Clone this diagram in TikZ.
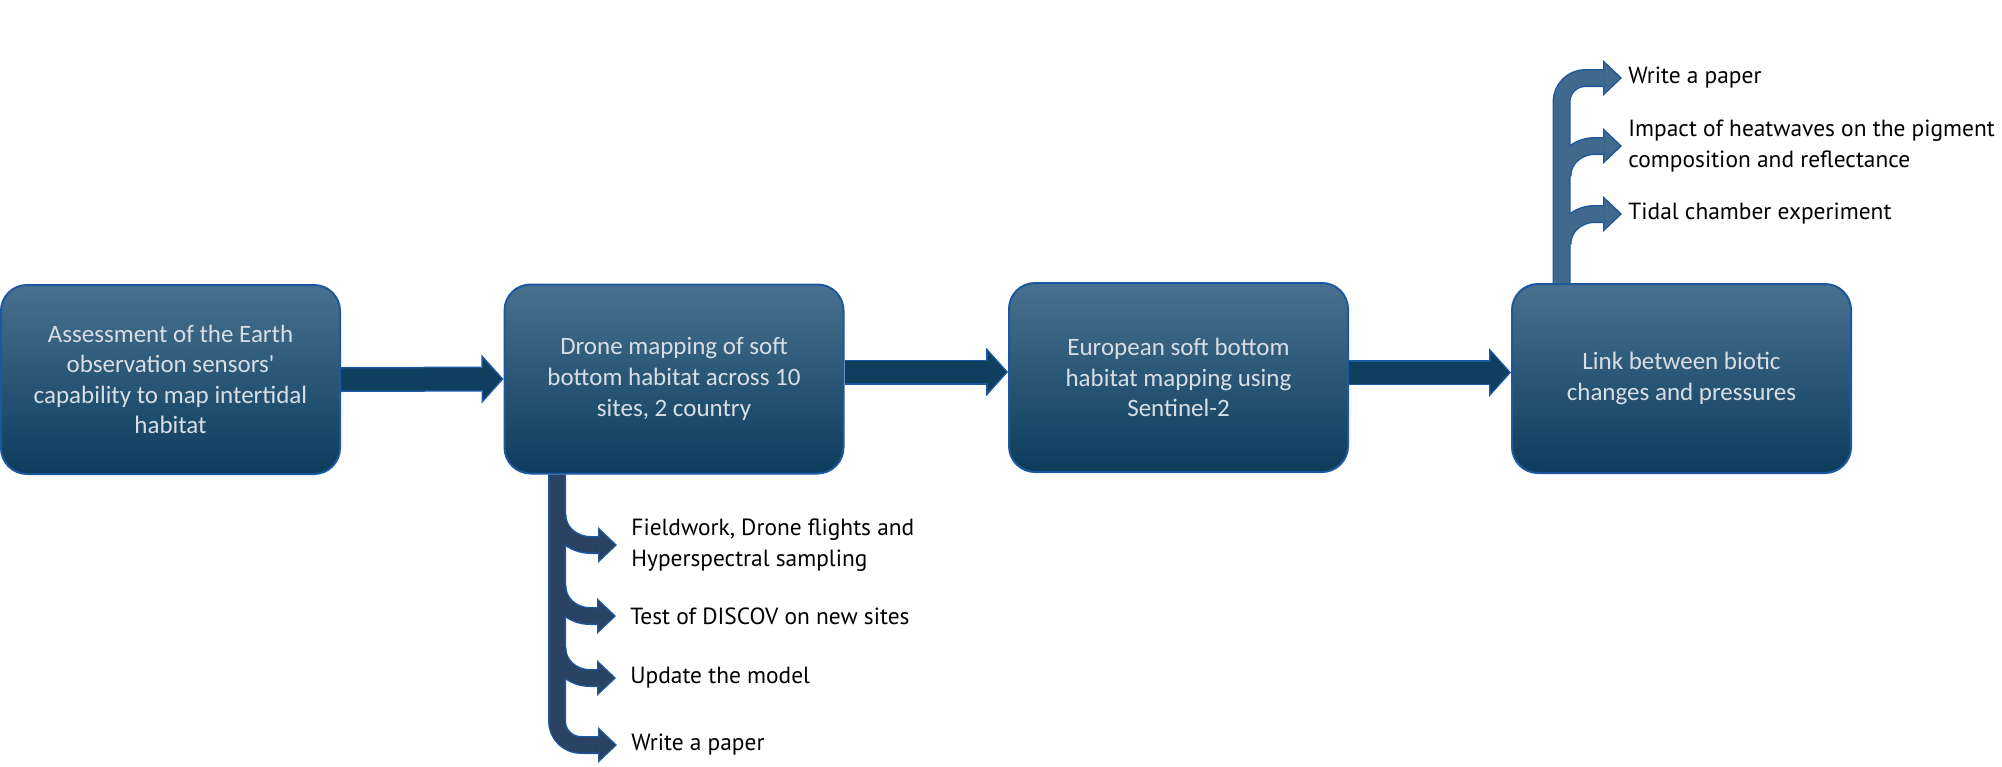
\documentclass[tikz,border=0pt]{standalone}
\usepackage{fontspec}
\usepackage{tikz}
\usetikzlibrary{arrows.meta,backgrounds}
\newfontfamily\stagefont{Carlito}
\newfontfamily\taskfont{PT Sans}
\definecolor{stagetop}{RGB}{72,113,143}
\definecolor{stagebot}{RGB}{12,60,92}
\definecolor{stageedge}{RGB}{28,88,160}
\definecolor{stagetext}{RGB}{216,222,230}
\definecolor{rimblue}{RGB}{28,88,160}
\definecolor{linkfill}{RGB}{15,63,95}
\definecolor{downfill}{RGB}{42,67,98}
\definecolor{upfill}{RGB}{64,105,139}

\begin{document}
\begin{tikzpicture}
  [ x=0.5pt, y=-0.5pt
  , stage/.style={rectangle, rounded corners=13pt, draw=stageedge, line width=1pt, top color=stagetop, bottom color=stagebot, minimum width=169.5pt, minimum height=94.5pt, align=center, text=stagetext, font=\stagefont\fontsize{12.5pt}{15.3pt}\selectfont}
  , task/.style={anchor=west, inner sep=0pt, align=left, font=\taskfont\fontsize{11.7pt}{15.3pt}\selectfont}
  , link rim/.style={line width=12.5pt, draw=rimblue, -{Triangle[width=24.5pt, length=11pt, line width=0pt]}}
  , link core/.style={line width=11pt, draw=linkfill, shorten >=1pt, -{Triangle[width=20.6pt, length=9.25pt, line width=0pt]}}
  , down rim/.style={line width=9pt, draw=rimblue, line join=round, shorten >=7pt, -{Triangle[width=18pt, length=9.5pt, line width=0pt]}}
  , down core/.style={line width=7.6pt, draw=downfill, line join=round, shorten >=8pt, -{Triangle[width=14.8pt, length=7.8pt, line width=0pt]}}
  , up rim/.style={line width=9pt, draw=rimblue, line join=round, shorten >=3pt, -{Triangle[width=18pt, length=9.5pt, line width=0pt]}}
  , up core/.style={line width=7.6pt, draw=upfill, line join=round, shorten >=4pt, -{Triangle[width=14.8pt, length=7.8pt, line width=0pt]}}]
  \useasboundingbox (0,0) rectangle (2002,766);
  \node (b1) at (170.5, 379.5) [stage] {Assessment of the Earth\\observation sensors\textquotesingle\\capability to map intertidal\\habitat};
  \node (b2) at (674, 379) [stage] {Drone mapping of soft\\bottom habitat across 10\\sites, 2 country};
  \node (b3) at (1178.5, 377.5) [stage] {European soft bottom\\habitat mapping using\\Sentinel-2};
  \node (b4) at (1681.5, 378.5) [stage] {Link between biotic\\changes and pressures};
  \node (d1) at (631, 545) [task] {Fieldwork, Drone flights and\\Hyperspectral sampling};
  \node (d2) at (630, 616) [task] {Test of DISCOV on new sites};
  \node (d3) at (630, 678) [task] {Update the model};
  \node (d4) at (631, 745) [task] {Write a paper};
  \node (u1) at (1628, 78) [task] {Write a paper};
  \node (u2) at (1628, 146) [task] {Impact of heatwaves on the pigment\\composition and reflectance};
  \node (u3) at (1628, 214) [task] {Tidal chamber experiment};
  \coordinate (dr1) at (557.5, 515);
  \coordinate (dr2) at (557.5, 586);
  \coordinate (dr3) at (557.5, 648);
  \coordinate (ur2) at (1562.5, 176);
  \coordinate (ur3) at (1562.5, 244);
  \begin{scope}[on background layer]
    \foreach \pass in {rim,core} {
      \draw [link \pass] (b1.east) -- (b2.west);
      \draw [link \pass] ([yshift=3.5pt]b2.east) -- ([yshift=2.75pt]b3.west);
      \draw [link \pass] ([yshift=2.5pt]b3.east) -- ([yshift=3pt]b4.west);
      \draw [down \pass, rounded corners=12pt] ([xshift=26.75pt]b2.south west) |- (d4.west);
      \draw [down \pass] (dr1) to [out=-90, in=180] ([xshift=-20pt]d1.west) -- (d1.west);
      \draw [down \pass] (dr2) to [out=-90, in=180] ([xshift=-20pt]d2.west) -- (d2.west);
      \draw [down \pass] (dr3) to [out=-90, in=180] ([xshift=-20pt]d3.west) -- (d3.west);
      \draw [up \pass, rounded corners=12pt] ([xshift=25.25pt]b4.north west) |- (u1.west);
      \draw [up \pass] (ur2) to [out=90, in=180] ([xshift=-16.5pt]u2.west) -- (u2.west);
      \draw [up \pass] (ur3) to [out=90, in=180] ([xshift=-16.5pt]u3.west) -- (u3.west);
    }
  \end{scope}
\end{tikzpicture}
\end{document}
